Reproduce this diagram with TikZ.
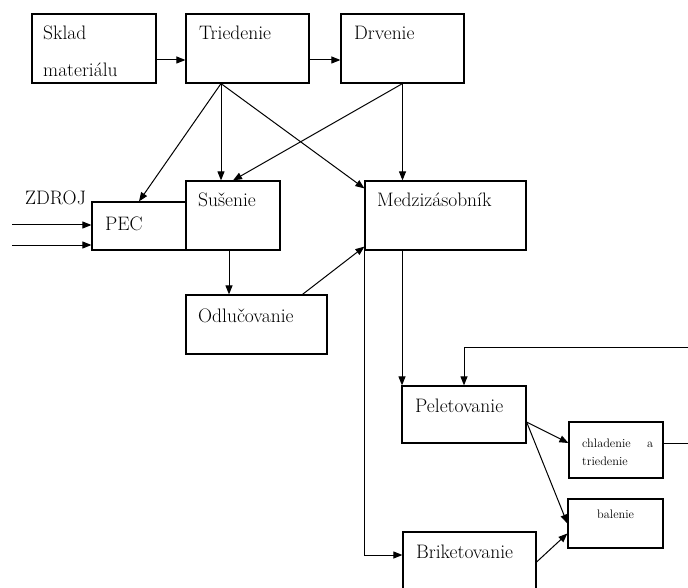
\documentclass[tikz,border=0pt]{standalone}
\usetikzlibrary{arrows.meta,fit,calc}
\begin{document}
\begin{tikzpicture}[x=1pt,y=-1pt,
  box/.style={draw, line width=1.2pt, inner sep=0pt, rectangle},
  lbl/.style={anchor=base west, inner sep=0pt, font=\fontsize{19.5}{19.5}\selectfont},
  slbl/.style={anchor=base west, inner sep=0pt, font=\fontsize{12.3}{12.3}\selectfont},
  arr/.style={line width=1pt, -{Triangle[length=9pt,width=7pt]}},
  ln/.style={line width=1pt}]
\useasboundingbox (0,0) rectangle (688,588);
\clip (0,0) rectangle (688,588);
% boxes
\node[box, fit={(32,14) (156,83)}] (sklad) {};
\node[box, fit={(186,14) (309,83)}] (tried) {};
\node[box, fit={(341,14) (464,83)}] (drv) {};
\node[box, fit={(186,181) (280,250)}] (sus) {};
\node[box, fit={(92,202) (186,250)}] (pec) {};
\node[box, fit={(365,181) (526,250)}] (med) {};
\node[box, fit={(186,295) (327,354)}] (odl) {};
\node[box, fit={(402,386) (526,443)}] (pel) {};
\node[box, fit={(569,422) (663,478)}] (chl) {};
\node[box, fit={(568,499) (663,548)}] (bal) {};
\node[box, fit={(403,532) (536,600)}] (bri) {};
% labels
\node[lbl] (tsk1) at (43,40) {Sklad};
\node[lbl] (tsk2) at (43,77) {materiálu};
\node[lbl] (ttr) at (199,40) {Triedenie};
\node[lbl] (tdr) at (354,40) {Drvenie};
\node[lbl] (tsu) at (198,207) {Sušenie};
\node[lbl] (tpe) at (105,230) {PEC};
\node[lbl] (tzd) at (25,205) {ZDROJ};
\node[lbl] (tme) at (377,207) {Medzizásobník};
\node[lbl] (tod) at (198,322) {Odlučovanie};
\node[lbl] (tpl) at (415,412) {Peletovanie};
\node[lbl] (tbr) at (416,558) {Briketovanie};
\node[slbl] (tch1) at (582,447) {chladenie};
\node[slbl] (tch2) at (647,447) {a};
\node[slbl] (tch3) at (582,465) {triedenie};
\node[slbl] (tba) at (597,518) {balenie};
% connection points
\coordinate (tb) at ([xshift=-26.5pt]tried.south);
\coordinate (in1) at (12,225);
\coordinate (in2) at (12,245);
\coordinate (fb1) at (700,443);
\coordinate (fb2) at (700,347);
% connectors
\draw[arr] ([yshift=-11.5pt]sklad.east) -- ([yshift=-11.5pt]tried.west);
\draw[arr] ([yshift=-11.5pt]tried.east) -- ([yshift=-11.5pt]drv.west);
\draw[arr] (tb) -- (pec.north);
\draw[arr] (tb) -- ([xshift=-12pt]sus.north);
\draw[arr] (tb) -- ([yshift=-8pt]med.north west);
\draw[arr] (drv.south) -- (sus.north);
\draw[arr] (drv.south) -- (drv.south |- med.north);
\draw[arr] (in1) -- (in1 -| pec.west);
\draw[arr] (in2) -- (in2 -| pec.west);
\draw[arr] ([xshift=-4pt]sus.south) -- ([xshift=-4pt]sus.south |- odl.north);
\draw[arr] ([xshift=46pt]odl.north) -- ([yshift=4pt]med.south west);
\draw[arr] ([xshift=-43.5pt]med.south) -- ([xshift=-43.5pt]med.south |- pel.north);
\draw[arr] (med.south west) -- (med.south west |- 0,555) -- (bri.west |- 0,555);
\draw[ln] ([yshift=7pt]chl.east) -- (fb1) -- (fb2) -- (464,347) coordinate (fb3);
\draw[arr] (fb3) -- (fb3 |- pel.north);
\draw[arr] ([yshift=-7.5pt]pel.east) -- ([yshift=7pt]chl.west);
\draw[arr] ([yshift=-7.5pt]pel.east) -- (bal.west);
\draw[arr] (bri.east |- 0,562) -- ([yshift=-10pt]bal.west);
\end{tikzpicture}
\end{document}
